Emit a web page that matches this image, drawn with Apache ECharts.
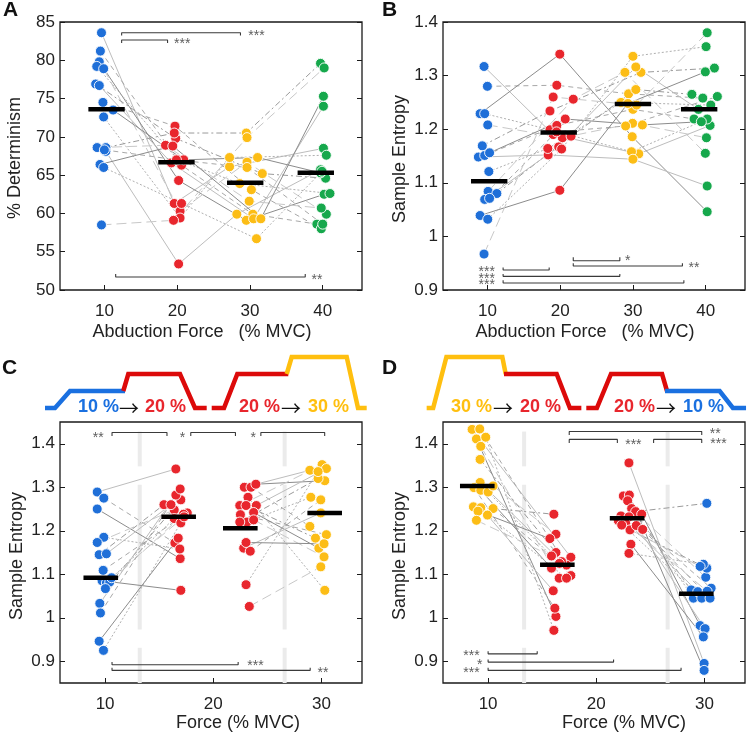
<!DOCTYPE html>
<html><head><meta charset="utf-8">
<script src="https://cdn.jsdelivr.net/npm/echarts@6/dist/echarts.min.js"></script>
<style>html,body{margin:0;padding:0;background:#fff}#c{width:749px;height:739px}</style>
</head><body><div id="c"></div>
<script>
// ---------- Panel A: % Determinism (subjects in same order across conditions) ----------
const A_ticksX = [10, 20, 30, 40];
const A_ticksY = [50, 55, 60, 65, 70, 75, 80, 85];
const A_blue  = [83.6, 81.2, 79.8, 79.2, 78.9, 76.9, 76.7, 74.5, 73.5, 72.6, 68.6, 68.6, 68.1, 68.3, 66.4, 66.0, 58.5];
const A_blueX = [9.6, 9.45, 9.3, 8.95, 9.9, 8.8, 9.3, 9.8, 11.2, 9.9, 9.0, 10.2, 10.2, 10.0, 9.4, 9.9, 9.6];
const A_red   = [61.3, 66.3, 64.3, 67.0, 60.3, 69.8, 66.6, 71.4, 67.0, 59.4, 68.9, 70.5, 53.4, 67.0, 68.8, 61.3, 59.1];
const A_redX  = [19.6, 20.6, 20.2, 20.1, 20.4, 19.8, 19.2, 19.7, 20.9, 20.4, 18.4, 19.6, 20.2, 19.9, 19.4, 20.6, 19.5];
const A_yel   = [66.1, 59.9, 59.1, 63.9, 66.7, 65.2, 59.3, 63.1, 67.3, 67.3, 61.6, 70.5, 59.9, 66.0, 59.3, 56.7, 69.9];
const A_yelX  = [27.2, 30.4, 29.5, 28.6, 29.6, 31.7, 30.5, 30.2, 31.05, 27.2, 29.9, 29.5, 28.2, 29.6, 31.5, 30.9, 29.6];
const A_grn   = [68.5, 58.6, 62.5, 62.6, 59.9, 64.6, 74.0, 58.0, 65.3, 67.6, 60.7, 79.6, 65.7, 58.6, 75.3, 65.5, 79.0];
const A_grnX  = [40.1, 39.2, 40.2, 41.0, 40.5, 40.4, 40.1, 39.8, 39.7, 40.5, 39.8, 39.7, 39.7, 40.0, 40.1, 39.9, 40.2];
const A_median  = [73.6, 66.7, 64.0, 65.3];
const A_medianX = [10.3, 19.9, 29.35, 39.05];
const A_brackets = [[12.37, 28.7, 83.6, 83.25], [12.37, 18.68, 82.65, 82.26], [11.55, 37.6, 51.7, 52.1]];
const A_stars = [[30.9, 83.15, '***'], [20.7, 82.15, '***'], [39.2, 51.35, '**']];

// ---------- Panel B: Sample Entropy ----------
const B_ticksX = [10, 20, 30, 40];
const B_ticksY = [0.9, 1.0, 1.1, 1.2, 1.3, 1.4];
const B_blue  = [1.317, 1.280, 1.229, 1.229, 1.208, 1.169, 1.148, 1.151, 1.156, 1.121, 1.084, 1.080, 1.069, 1.071, 1.039, 1.032, 0.967];
const B_blueX = [9.54, 10.0, 9.0, 9.63, 10.05, 9.3, 8.76, 9.63, 10.3, 10.2, 10.1, 11.3, 9.63, 10.3, 9.0, 10.05, 9.54];
const B_red   = [1.190, 1.282, 1.340, 1.199, 1.184, 1.234, 1.152, 1.207, 1.219, 1.164, 1.256, 1.187, 1.167, 1.195, 1.086, 1.163, 1.260];
const B_redX  = [19.04, 19.54, 19.95, 18.6, 20.3, 18.6, 18.35, 19.54, 20.7, 18.3, 21.8, 21.5, 19.8, 19.5, 19.95, 20.2, 19.04];
const B_yel   = [1.154, 1.266, 1.186, 1.158, 1.211, 1.306, 1.144, 1.237, 1.208, 1.250, 1.306, 1.274, 1.316, 1.206, 1.248, 1.336, 1.245];
const B_yelX  = [30.8, 29.4, 29.9, 29.8, 29.95, 31.1, 30.0, 30.0, 31.3, 28.35, 28.9, 30.4, 30.4, 29.0, 29.3, 30.0, 30.5];
const B_grn   = [1.207, 1.258, 1.046, 1.219, 1.184, 1.314, 1.094, 1.219, 1.214, 1.245, 1.155, 1.265, 1.237, 1.261, 1.307, 1.354, 1.380];
const B_grnX  = [40.6, 39.6, 40.2, 40.2, 40.1, 41.2, 40.2, 38.4, 39.4, 40.7, 39.95, 38.1, 39.0, 41.6, 39.95, 40.05, 40.2];
const B_median  = [1.103, 1.194, 1.247, 1.237];
const B_medianX = [10.25, 19.8, 30.0, 39.1];
const B_brackets = [[21.8, 28.2, 0.9547, 0.9609], [21.8, 36.8, 0.9447, 0.950], [12.16, 18.49, 0.9373, 0.942], [12.16, 28.2, 0.9255, 0.930], [12.16, 37.0, 0.913, 0.918]];
const B_stars = [[29.3, 0.954, '*'], [38.4, 0.940, '**'], [9.9, 0.933, '***'], [9.9, 0.921, '***'], [9.9, 0.909, '***']];

// ---------- Panel C: 10%->20% and 20%->30% ----------
const C_ticksX = [10, 20, 30];
const C_ticksY = [0.9, 1.0, 1.1, 1.2, 1.3, 1.4];
const C_blue  = [1.289, 1.275, 1.250, 1.185, 1.173, 1.145, 1.147, 1.109, 1.085, 1.080, 1.082, 1.067, 1.033, 1.011, 0.946, 0.925, 1.092];
const C_blueX = [9.27, 9.88, 9.27, 9.88, 9.27, 9.45, 10.12, 9.82, 9.72, 10.12, 10.43, 10.03, 9.51, 9.57, 9.45, 9.85, 10.6];
const C_red1  = [1.342, 1.172, 1.136, 1.158, 1.248, 1.260, 1.260, 1.241, 1.063, 1.228, 1.238, 1.271, 1.282, 1.296, 1.183, 1.218, 1.232];
const C_red1X = [16.54, 16.45, 16.94, 16.91, 16.39, 15.44, 16.09, 17.6, 17.0, 16.39, 17.25, 17.0, 16.54, 16.94, 16.76, 17.0, 17.3];
const C_red2  = [1.300, 1.300, 1.307, 1.277, 1.258, 1.258, 1.258, 1.237, 1.242, 1.220, 1.225, 1.220, 1.160, 1.153, 1.173, 1.076, 1.026];
const C_red2X = [22.87, 23.49, 23.94, 23.21, 22.45, 23.03, 23.98, 22.51, 23.73, 23.12, 23.73, 22.45, 22.81, 23.42, 23.03, 23.03, 23.33];
const C_yel   = [1.339, 1.210, 1.315, 1.063, 1.352, 1.183, 1.343, 1.191, 1.160, 1.277, 1.140, 1.320, 1.241, 1.271, 1.170, 1.336, 1.117];
const C_yelX  = [28.93, 28.93, 30.31, 30.31, 30.06, 29.45, 30.46, 30.46, 29.76, 29.02, 30.24, 29.69, 29.94, 29.94, 30.24, 29.69, 29.94];
const C_median  = [1.092, 1.232, 1.206, 1.241];
const C_medianX = [9.6, 16.8, 22.5, 30.3];
const C_brackets = [[10.64, 15.72, 1.426, 1.418], [17.92, 22.05, 1.426, 1.418], [24.4, 30.3, 1.426, 1.418], [10.64, 22.3, 0.892, 0.898], [10.64, 28.96, 0.879, 0.885]];
const C_stars = [[9.36, 1.414, '**'], [17.16, 1.412, '*'], [23.7, 1.412, '*'], [23.9, 0.888, '***'], [30.15, 0.873, '**']];
const C_bandX = [13.2, 26.6];

// ---------- Panel D: 30%->20% and 20%->10% ----------
const D_ticksX = [10, 20, 30];
const D_ticksY = [0.9, 1.0, 1.1, 1.2, 1.3, 1.4];
const D_yel   = [1.433, 1.434, 1.411, 1.415, 1.394, 1.364, 1.311, 1.299, 1.293, 1.289, 1.303, 1.255, 1.253, 1.251, 1.245, 1.236, 1.224];
const D_yelX  = [8.52, 9.23, 8.92, 9.78, 9.32, 9.26, 9.26, 8.70, 9.32, 10.0, 10.46, 8.64, 9.32, 10.46, 9.07, 9.94, 8.92];
const D_red1  = [1.139, 1.121, 1.003, 0.971, 1.091, 1.150, 1.129, 1.022, 1.114, 1.097, 1.192, 1.238, 1.062, 1.125, 1.182, 1.091, 1.142];
const D_red1X = [17.65, 17.25, 16.27, 16.08, 16.57, 16.27, 16.79, 16.17, 15.86, 17.65, 16.27, 16.08, 16.02, 16.6, 15.71, 17.25, 15.86];
const D_red2  = [1.356, 1.280, 1.282, 1.269, 1.251, 1.244, 1.234, 1.232, 1.238, 1.223, 1.217, 1.202, 1.212, 1.203, 1.169, 1.148, 1.213];
const D_red2X = [23.02, 22.5, 23.06, 22.9, 23.27, 23.64, 22.28, 23.02, 24.2, 22.04, 22.72, 23.12, 23.7, 24.29, 23.2, 23.02, 22.35];
const D_blue  = [0.895, 1.064, 0.879, 1.045, 1.093, 1.263, 1.060, 1.068, 0.982, 1.045, 1.061, 1.114, 0.975, 1.045, 0.956, 1.123, 1.118];
const D_blueX = [29.97, 28.77, 29.97, 28.98, 30.12, 30.22, 29.38, 30.62, 29.6, 29.75, 30.25, 30.22, 30.06, 30.52, 29.9, 29.9, 29.6];
const D_median  = [1.303, 1.122, 1.229, 1.055];
const D_medianX = [9.0, 16.4, 22.85, 29.25];
const D_brackets = [[17.5, 29.75, 1.428, 1.420], [17.5, 21.95, 1.410, 1.402], [25.3, 29.75, 1.410, 1.402], [10, 14.54, 0.917, 0.923], [10, 21.6, 0.898, 0.904], [10, 27.84, 0.879, 0.885]];
const D_stars = [[31.0, 1.421, '**'], [23.43, 1.397, '***'], [31.3, 1.398, '***'], [8.46, 0.912, '***'], [9.23, 0.891, '*'], [8.46, 0.872, '***']];
const D_bandX = [13.33, 26.6];
const band_segments = [[1.428, 1.348], [1.306, 0.973], [0.931, 0.85]];

// ---------- Force profiles (time, % MVC) ----------
const profC_blue = [[5, 0], [15, 0], [30, 10], [85, 10]];
const profC_red1 = [[83.3, 10], [88.3, 20], [140, 20], [155, 0], [166.7, 0]];
const profC_red2 = [[171.7, 0], [184, 0], [197.3, 20], [248.3, 20]];
const profC_yel  = [[246.7, 20], [251.7, 30], [306.7, 30], [318, 0], [326.7, 0]];
const profD_yel  = [[3.7, 0], [10.3, 0], [23.7, 30], [80.3, 30], [83.7, 20]];
const profD_red1 = [[82, 20], [135.3, 20], [148.7, 0], [160.3, 0]];
const profD_red2 = [[165.3, 0], [176, 0], [190.3, 20], [242, 20], [247, 10]];
const profD_blue = [[245, 10], [300.3, 10], [313.7, 0], [327, 0]];

// ---------- styles ----------
const FONT = '"Liberation Sans", Arial, Helvetica, sans-serif';
const COL = { blue: '#1f6fd8', red: '#e8262d', yel: '#fcbd16', grn: '#16a84c' };
const PCOL = { blue: '#1a70e0', red: '#dc0a0a', yel: '#ffbf0f' };
const LSTY = [
  { color: '#bdbdbd', type: 'solid' },
  { color: '#a8a8a8', type: [5, 4] },
  { color: '#8c8c8c', type: 'solid' },
  { color: '#b0b0b0', type: [2, 2] },
  { color: '#c8c8c8', type: [10, 5] },
  { color: '#9a9a9a', type: [6, 3, 2, 3] }
];

const grids = [
  { left: 60, top: 22, width: 302, height: 268 },
  { left: 443, top: 22, width: 302, height: 268 },
  { left: 60, top: 422, width: 302, height: 261 },
  { left: 443, top: 422, width: 302, height: 261 },
  { left: 40, top: 340, width: 330, height: 68 },
  { left: 423, top: 340, width: 330, height: 68 }
].map((g, i) => Object.assign({ show: i < 4, borderColor: '#1a1a1a', borderWidth: 1.3, backgroundColor: 'transparent' }, g));

const panelRanges = [
  { x: [3.9, 45.4], y: [50, 85], tx: A_ticksX, ty: A_ticksY },
  { x: [3.9, 45.4], y: [0.9, 1.4], tx: B_ticksX, ty: B_ticksY },
  { x: [5.83, 33.75], y: [0.85, 1.45], tx: C_ticksX, ty: C_ticksY },
  { x: [5.83, 33.75], y: [0.85, 1.45], tx: D_ticksX, ty: D_ticksY }
];
const fmt = v => String(+(+v).toFixed(2));
const xAxis = [], yAxis = [];
panelRanges.forEach((r, i) => {
  xAxis.push({ type: 'value', gridIndex: i, min: r.x[0], max: r.x[1],
    axisLine: { show: false }, splitLine: { show: false },
    axisTick: { show: true, inside: true, length: 5, customValues: r.tx, lineStyle: { color: '#1a1a1a' } },
    axisLabel: { show: true, customValues: r.tx, formatter: fmt, margin: 13, fontSize: 17, color: '#222', fontFamily: FONT } });
});
panelRanges.forEach((r, i) => {
  yAxis.push({ type: 'value', gridIndex: i, min: r.y[0], max: r.y[1],
    axisLine: { show: false }, splitLine: { show: false },
    axisTick: { show: true, inside: true, length: 5, customValues: r.ty, lineStyle: { color: '#1a1a1a' } },
    axisLabel: { show: true, customValues: r.ty, formatter: fmt, margin: 5, fontSize: 17, color: '#222', fontFamily: FONT } });
});
panelRanges.forEach((r, i) => {
  yAxis.push({ type: 'value', gridIndex: i, position: 'right', min: r.y[0], max: r.y[1],
    axisLine: { show: false }, splitLine: { show: false },
    axisTick: { show: true, inside: true, length: 5, customValues: r.ty, lineStyle: { color: '#1a1a1a' } },
    axisLabel: { show: false } });
});
[4, 5].forEach(g => {
  xAxis.push({ type: 'value', gridIndex: g, min: 0, max: 330, show: false });
  yAxis.push({ type: 'value', gridIndex: g, min: 0, max: 40, show: false });
});

const series = [];
function pts(xs, vs) { return vs.map((v, i) => [xs[i], v]); }

function addPanel(p, conds, links, med, medX, medHW, brackets, stars, bands) {
  const n = conds[0].v.length;
  for (let s = 0; s < n; s++) {
    links.forEach(link => {
      series.push({ type: 'line', xAxisIndex: p, yAxisIndex: p, z: 1, silent: true, symbol: 'none', animation: false,
        lineStyle: { width: 1, color: LSTY[s % LSTY.length].color, type: LSTY[s % LSTY.length].type },
        data: link.map(c => [conds[c].x[s], conds[c].v[s]]) });
    });
  }
  if (bands) bands.forEach(bx => band_segments.forEach(seg => {
    series.push({ type: 'line', xAxisIndex: p, yAxisIndex: p, z: 0, silent: true, symbol: 'none', animation: false,
      lineStyle: { width: 4, color: '#ebebeb' }, data: [[bx, seg[0]], [bx, seg[1]]] });
  }));
  conds.forEach(c => {
    series.push({ type: 'scatter', xAxisIndex: p, yAxisIndex: p, z: 3, animation: false, symbolSize: 10,
      itemStyle: { color: c.col, borderColor: '#fff', borderWidth: 0.9, opacity: 1 },
      data: pts(c.x, c.v) });
  });
  med.forEach((m, i) => {
    series.push({ type: 'line', xAxisIndex: p, yAxisIndex: p, z: 4, silent: true, symbol: 'none', animation: false,
      lineStyle: { width: 4.5, color: '#000', cap: 'butt' }, data: [[medX[i] - medHW, m], [medX[i] + medHW, m]] });
  });
  brackets.forEach(b => {
    series.push({ type: 'line', xAxisIndex: p, yAxisIndex: p, z: 2, silent: true, symbol: 'none', animation: false,
      lineStyle: { width: 1.1, color: '#3a3a3a' }, data: [[b[0], b[3]], [b[0], b[2]], [b[1], b[2]], [b[1], b[3]]] });
  });
  series.push({ type: 'scatter', xAxisIndex: p, yAxisIndex: p, z: 5, silent: true, animation: false, symbolSize: 1,
    itemStyle: { color: 'rgba(0,0,0,0)' },
    label: { show: true, position: 'inside', formatter: q => q.data[2], fontSize: 14, color: '#333', fontFamily: FONT },
    data: stars });
}

addPanel(0, [
  { v: A_blue, x: A_blueX, col: COL.blue }, { v: A_red, x: A_redX, col: COL.red },
  { v: A_yel, x: A_yelX, col: COL.yel }, { v: A_grn, x: A_grnX, col: COL.grn }],
  [[0, 1, 2, 3]], A_median, A_medianX, 2.5, A_brackets, A_stars, null);
addPanel(1, [
  { v: B_blue, x: B_blueX, col: COL.blue }, { v: B_red, x: B_redX, col: COL.red },
  { v: B_yel, x: B_yelX, col: COL.yel }, { v: B_grn, x: B_grnX, col: COL.grn }],
  [[0, 1, 2, 3]], B_median, B_medianX, 2.5, B_brackets, B_stars, null);
addPanel(2, [
  { v: C_blue, x: C_blueX, col: COL.blue }, { v: C_red1, x: C_red1X, col: COL.red },
  { v: C_red2, x: C_red2X, col: COL.red }, { v: C_yel, x: C_yelX, col: COL.yel }],
  [[0, 1], [2, 3]], C_median, C_medianX, 1.6, C_brackets, C_stars, C_bandX);
addPanel(3, [
  { v: D_yel, x: D_yelX, col: COL.yel }, { v: D_red1, x: D_red1X, col: COL.red },
  { v: D_red2, x: D_red2X, col: COL.red }, { v: D_blue, x: D_blueX, col: COL.blue }],
  [[0, 1], [2, 3]], D_median, D_medianX, 1.6, D_brackets, D_stars, D_bandX);

function prof(g, yi, data, color) {
  series.push({ type: 'line', xAxisIndex: g, yAxisIndex: yi, clip: false, silent: true, symbol: 'none', animation: false,
    lineStyle: { width: 4.5, color: color, cap: 'butt', join: 'miter' }, data: data });
}
prof(4, 8, profC_blue, PCOL.blue); prof(4, 8, profC_red1, PCOL.red); prof(4, 8, profC_red2, PCOL.red); prof(4, 8, profC_yel, PCOL.yel);
prof(5, 9, profD_yel, PCOL.yel); prof(5, 9, profD_red1, PCOL.red); prof(5, 9, profD_red2, PCOL.red); prof(5, 9, profD_blue, PCOL.blue);

function txt(text, x, y, o) {
  return Object.assign({ type: 'text', x: x, y: y, silent: true,
    style: Object.assign({ text: text, font: (o && o.font) || ('18px ' + FONT), fill: (o && o.fill) || '#222',
      textAlign: (o && o.align) || 'left', textVerticalAlign: (o && o.valign) || 'middle' }, (o && o.style) || {}) },
    (o && o.rot) ? { rotation: o.rot } : {});
}
const B18 = 'bold 18px ' + FONT;
const ARW = '20px "Noto Sans CJK SC", "DejaVu Sans", sans-serif';
const graphic = [
  txt('A', 3, 21, { font: 'bold 21px ' + FONT, valign: 'bottom', fill: '#111' }),
  txt('B', 382, 21, { font: 'bold 21px ' + FONT, valign: 'bottom', fill: '#111' }),
  txt('C', 2, 379, { font: 'bold 21px ' + FONT, valign: 'bottom', fill: '#111' }),
  txt('D', 382, 379, { font: 'bold 21px ' + FONT, valign: 'bottom', fill: '#111' }),
  txt('% Determinism', 15, 158, { align: 'center', rot: Math.PI / 2 }),
  txt('Sample Entropy', 400, 159, { align: 'center', rot: Math.PI / 2 }),
  txt('Sample Entropy', 17, 556, { align: 'center', rot: Math.PI / 2 }),
  txt('Sample Entropy', 400, 556, { align: 'center', rot: Math.PI / 2 }),
  txt('Abduction Force   (% MVC)', 202, 332, { align: 'center' }),
  txt('Abduction Force   (% MVC)', 585, 332, { align: 'center' }),
  txt('Force (% MVC)', 238, 723, { align: 'center' }),
  txt('Force (% MVC)', 624, 723, { align: 'center' }),
  txt('10 %', 78, 407, { font: B18, fill: PCOL.blue }),
  txt('\u2192', 119, 408, { font: ARW, fill: '#111' }),
  txt('20 %', 145, 407, { font: B18, fill: COL.red }),
  txt('20 %', 239, 407, { font: B18, fill: COL.red }),
  txt('\u2192', 281, 408, { font: ARW, fill: '#111' }),
  txt('30 %', 308, 407, { font: B18, fill: PCOL.yel }),
  txt('30 %', 451, 407, { font: B18, fill: PCOL.yel }),
  txt('\u2192', 493, 408, { font: ARW, fill: '#111' }),
  txt('20 %', 520, 407, { font: B18, fill: COL.red }),
  txt('20 %', 614, 407, { font: B18, fill: COL.red }),
  txt('\u2192', 656, 408, { font: ARW, fill: '#111' }),
  txt('10 %', 683, 407, { font: B18, fill: PCOL.blue })
];

const chart = echarts.init(document.getElementById('c'), null, { renderer: 'canvas' });
chart.setOption({ animation: false, backgroundColor: '#fff', grid: grids, xAxis: xAxis, yAxis: yAxis, series: series, graphic: graphic });
</script></body></html>
